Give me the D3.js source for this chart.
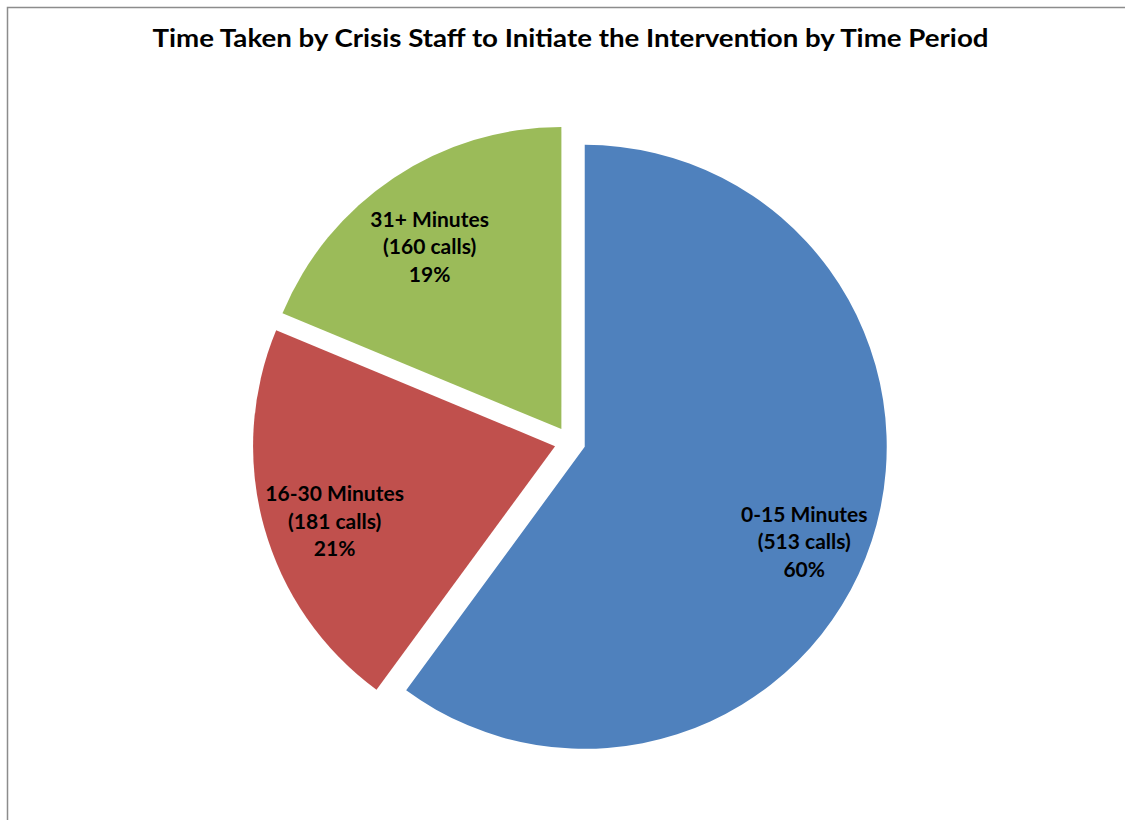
<!DOCTYPE html>
<html>
<head>
<meta charset="utf-8">
<script src="https://cdn.jsdelivr.net/npm/d3@7"></script>
<style>
  html, body { margin: 0; padding: 0; background: #ffffff; }
  svg { display: block; }
  text { font-family: Lato, "Open Sans", "DejaVu Sans", sans-serif; font-weight: bold; fill: #000; }
</style>
</head>
<body>
<svg id="chart" width="1125" height="820"></svg>
<script>
// Response-time categories and call counts
const categories = ["0-15 Minutes", "16-30 Minutes", "31+ Minutes"];
const calls = [513, 181, 160];
const percentLabels = ["60%", "21%", "19%"];
const colors = ["#4F81BD", "#C0504D", "#9BBB59"];
const title = "Time Taken by Crisis Staff to Initiate the Intervention by Time Period";

const W = 1125, H = 820;
const cx = 570, cy = 442;
const radius = 302;
const explode = 15.5;
const labelRadius = 232;
// small per-slice label nudges (px) so text sits comfortably inside each wedge
const labelNudge = [[-1, 23], [3, 13], [-3, 11]];
const lineHeight = 27.5;

const svg = d3.select("#chart");

// frame
svg.append("rect")
  .attr("x", 7.5).attr("y", 7.5)
  .attr("width", W + 20).attr("height", H + 20)
  .attr("fill", "#fff")
  .attr("stroke", "#8c8c8c")
  .attr("stroke-width", 1.5);

svg.append("text")
  .attr("x", 570.5).attr("y", 47)
  .attr("text-anchor", "middle")
  .attr("font-size", 25)
  .attr("textLength", 836)
  .attr("lengthAdjust", "spacingAndGlyphs")
  .text(title);

const pie = d3.pie().sort(null).value(d => d).startAngle(0).endAngle(2 * Math.PI);
const arcs = pie(calls);
const arc = d3.arc().innerRadius(0).outerRadius(radius);

const g = svg.append("g").attr("transform", `translate(${cx},${cy})`);

const slice = g.selectAll("g.slice")
  .data(arcs)
  .join("g")
  .attr("class", "slice")
  .attr("transform", d => {
    const mid = (d.startAngle + d.endAngle) / 2;
    return `translate(${explode * Math.sin(mid)},${-explode * Math.cos(mid)})`;
  });

slice.append("path")
  .attr("d", arc)
  .attr("fill", (d, i) => colors[i]);

slice.each(function(d, i) {
  const mid = (d.startAngle + d.endAngle) / 2;
  const x = labelRadius * Math.sin(mid) + labelNudge[i][0];
  const y = -labelRadius * Math.cos(mid) + labelNudge[i][1];
  const t = d3.select(this).append("text")
    .attr("text-anchor", "middle")
    .attr("font-size", 21)
    .attr("transform", `translate(${x},${y + 7})`);
  const lines = [categories[i], `(${calls[i]} calls)`, percentLabels[i]];
  lines.forEach((s, k) => {
    t.append("tspan").attr("x", 0).attr("y", (k - 1) * lineHeight).text(s);
  });
});
</script>
</body>
</html>
